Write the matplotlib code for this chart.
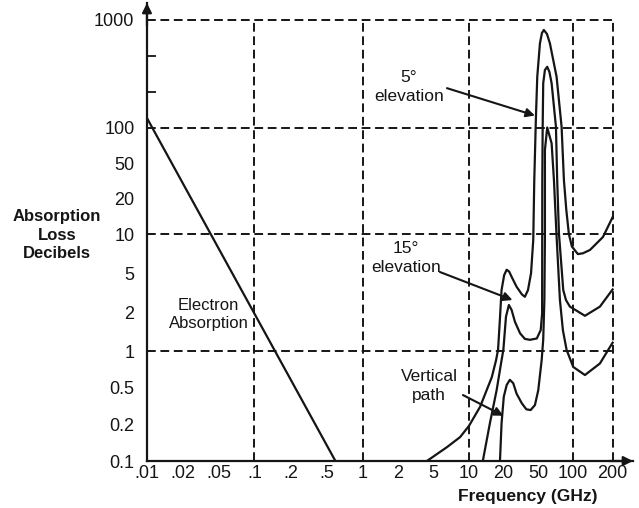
import numpy as np
import matplotlib
matplotlib.use('Agg')
import matplotlib.pyplot as plt

plt.rcParams['font.family'] = ['Liberation Sans', 'DejaVu Sans']

# axis ticks: 1-2-5 steps, drawn evenly spaced like the original chart
freq_ticks = [.01, .02, .05, .1, .2, .5, 1, 2, 5, 10, 20, 50, 100, 200]
freq_labels = ['.01', '.02', '.05', '.1', '.2', '.5', '1', '2', '5', '10', '20', '50', '100', '200']
loss_ticks = [0.1, 0.2, 0.5, 1, 2, 5, 10, 20, 50, 100, 1000]
loss_labels = ['0.1', '0.2', '0.5', '1', '2', '5', '10', '20', '50', '100', '1000']
freq_minor = [.02, .05, .2, .5, 2, 5, 20, 50]
loss_minor = [0.2, 0.5, 2, 5, 20, 50, 200, 500]
grid_freq = [0.1, 1, 10, 100, 200]
grid_loss = [1, 10, 100, 1000]

# electron absorption (straight line)
electron_freq = [0.01, 0.59]
electron_loss = [120, 0.1]

# 5 deg elevation
elev5_freq = [4.2, 6.5, 8.4, 10, 12.5, 15.8, 17.2, 17.9, 18.6, 19.2, 20.3, 21.7, 23.2, 24.7,
              28.2, 32.4, 35.1, 38.1, 41.3, 43.8, 45.0, 47.0, 48.7, 51.7, 53.8, 55.9, 59.5,
              63.1, 72.1, 79.7, 83.5, 87.6, 92.2, 98, 109, 119, 134.6, 168.9, 200]
elev5_loss = [0.1, 0.13, 0.157, 0.194, 0.31, 0.61, 0.84, 1.02, 1.8, 3.35, 4.76, 5.3, 5.12, 4.58,
              3.62, 3.03, 2.86, 3.35, 4.97, 9.0, 32.2, 122, 292, 633, 772, 819, 758,
              633, 292, 101.5, 32.2, 16, 10, 8.0, 7.0, 7.1, 7.53, 9.48, 13.9]

# 15 deg elevation
elev15_freq = [13.2, 15.2, 17.4, 19.2, 19.9, 21.3, 23.0, 24.7, 27.0, 30.9, 35.1, 40.1, 48.1,
               52.5, 54.0, 54.2, 54.6, 55.2, 57.1, 59.8, 62.5, 65.3, 71.2, 73.0, 75.6, 82.4,
               87, 94.1, 123.3, 160.2, 200]
elev15_loss = [0.1, 0.205, 0.47, 0.84, 1.02, 1.84, 2.36, 2.1, 1.68, 1.37, 1.24, 1.22, 1.25,
               1.45, 1.95, 32.2, 101.5, 247, 346, 376, 329, 247, 101.5, 32.2, 10.1, 3.35,
               2.65, 2.27, 1.87, 2.27, 3.4]

# vertical path
vert_freq = [18.6, 19.2, 20.1, 21.7, 23.6, 25.8, 28.2, 32.4, 36.5, 40.9, 45.8, 50, 53.5, 55.2,
             56.5, 57.1, 57.1, 57.1, 59.8, 65.3, 68.4, 71.9, 77.1, 81.8, 88.1, 100.5, 123.3,
             160.2, 200]
vert_loss = [0.1, 0.205, 0.399, 0.526, 0.58, 0.544, 0.43, 0.338, 0.291, 0.286, 0.324, 0.47, 0.84,
             1.22, 2.65, 9.0, 32.2, 64.4, 100, 73.4, 32.2, 10.1, 2.65, 1.45, 1.02, 0.74, 0.635,
             0.79, 1.16]

# label positions and arrow ends
label5_at = (2.64, 224)
label15_at = (2.44, 6.53)
labelv_at = (4.43, 0.516)
label_e_at = (0.0386, 1.91)
arrow5 = [(6.5, 218), (45.8, 126)]
arrow15 = [(5.66, 5.09), (25.3, 2.65)]
arrowv = [(8.89, 0.416), (19.9, 0.248)]

# the printed axes are hand drawn: each 1-2-5 step has its own length
x_seq = freq_ticks + [500]
x_step = [35.83] * 3 + [36.17] * 3 + [35.33] * 3 + [34.67] * 3 + [39.7, 39.7]
y_seq = [0.1, 0.2, 0.5, 1, 2, 5, 10, 20, 50, 100, 200, 500, 1000, 2000, 5000]
y_step = [36.67] * 3 + [39.0] * 3 + [35.5] * 3 + [35.97] * 3 + [36.6, 36.6]


def step_scale(seq, steps):
    lg = np.log10(seq)
    pos = np.concatenate([[0], np.cumsum(steps)])

    def fwd(v):
        v = np.clip(np.asarray(v, dtype=float), 1e-9, None)
        return np.interp(np.log10(v), lg, pos)

    def inv(s):
        return 10 ** np.interp(np.asarray(s, dtype=float), pos, lg)
    return fwd, inv


ink = '#151515'
fig = plt.figure(figsize=(6.39, 5.08), dpi=100)
ax = fig.add_axes([0.2300, 0.0925, 0.7606, 0.9016])

ax.set_xscale('function', functions=step_scale(x_seq, x_step))
ax.set_yscale('function', functions=step_scale(y_seq, y_step))
ax.set_xlim(0.01, 320)
ax.set_ylim(0.1, 1370)

# dashed grid
dash = (0, (4.5, 2.4))
ax.hlines(grid_loss, 0.01, 200, colors=ink, linestyles=dash, lw=1.4)
ax.vlines(grid_freq, 0.1, 1000, colors=ink, linestyles=dash, lw=1.4)

# curves
ax.plot(electron_freq, electron_loss, color=ink, lw=1.6)
ax.plot(elev5_freq, elev5_loss, color=ink, lw=1.6)
ax.plot(elev15_freq, elev15_loss, color=ink, lw=1.6)
ax.plot(vert_freq, vert_loss, color=ink, lw=1.6)

# ticks
ax.set_xticks(freq_ticks, freq_labels)
ax.set_xticks(freq_minor, minor=True)
ax.set_yticks(loss_ticks, loss_labels)
ax.set_yticks(loss_minor, minor=True)
ax.tick_params(which='major', length=0, labelsize=13, colors=ink)
ax.tick_params(axis='x', which='major', pad=3)
ax.tick_params(axis='y', which='major', pad=9)
ax.tick_params(axis='x', which='minor', direction='in', length=4.5, width=1.3, color=ink)
ax.tick_params(axis='y', which='minor', direction='in', length=6.5, width=1.3, color=ink)

for s in ['top', 'right']:
    ax.spines[s].set_visible(False)
for s in ['left', 'bottom']:
    ax.spines[s].set_linewidth(1.6)
    ax.spines[s].set_color(ink)

# axis arrows
arr = dict(arrowstyle='-|>', color=ink, lw=1.6, mutation_scale=14, shrinkA=0, shrinkB=0)
ax.annotate('', xy=(1, 0), xycoords='axes fraction', xytext=(0.95, 0), arrowprops=arr)
ax.annotate('', xy=(0, 1), xycoords='axes fraction', xytext=(0, 0.95), arrowprops=arr)

# labels
fig.text(0.089, 0.537, 'Absorption\nLoss\nDecibels', ha='center', va='center',
         fontsize=12, fontweight='bold', linespacing=1.27, color=ink)
fig.text(0.826, 0.022, 'Frequency (GHz)', ha='center', va='center',
         fontsize=12.5, fontweight='bold', color=ink)

ax.text(*label_e_at, 'Electron\nAbsorption', ha='center', va='center', fontsize=12,
        linespacing=1.3, color=ink)
ax.text(*label5_at, '5°\nelevation', ha='center', va='center', fontsize=12.5,
        linespacing=1.3, color=ink)
ax.text(*label15_at, '15°\nelevation', ha='center', va='center', fontsize=12.5,
        linespacing=1.3, color=ink)
ax.text(*labelv_at, 'Vertical\npath', ha='center', va='center', fontsize=12.5,
        linespacing=1.3, color=ink)

pointer = dict(arrowstyle='-|>', color=ink, lw=1.5, mutation_scale=13, shrinkA=0, shrinkB=0)
for tail, tip in [arrow5, arrow15, arrowv]:
    ax.annotate('', xy=tip, xytext=tail, arrowprops=pointer)

fig.savefig('out.png', dpi=100)
